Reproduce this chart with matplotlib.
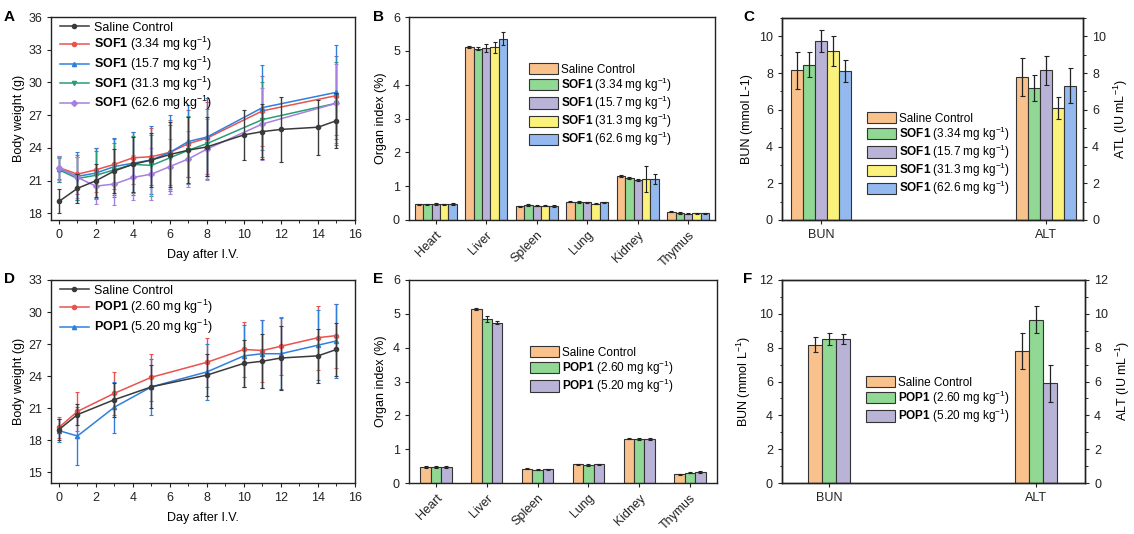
import numpy as np
import matplotlib
matplotlib.use("Agg")
import matplotlib.pyplot as plt
from matplotlib.ticker import MultipleLocator

plt.rcParams['font.family'] = ['Liberation Sans', 'DejaVu Sans']
plt.rcParams['mathtext.fontset'] = 'custom'
plt.rcParams['mathtext.rm'] = 'Liberation Sans'
plt.rcParams['mathtext.bf'] = 'Liberation Sans:bold'
plt.rcParams['font.size'] = 9

# ---------- data ----------
# body weight, SOF1 study (A)
days_ctrl = [0, 1, 2, 3, 4, 5, 6, 7, 8, 10, 11, 12, 14, 15]
bw_ctrl = [19.1, 20.3, 21.0, 21.9, 22.5, 22.9, 23.4, 23.8, 24.1, 25.2, 25.5, 25.7, 25.9, 26.5]
bw_ctrl_sd = [1.1, 1.3, 1.5, 2.0, 2.5, 2.5, 3.0, 3.0, 2.7, 2.3, 2.5, 3.0, 2.5, 2.5]

days_sof = [0, 1, 2, 3, 4, 5, 6, 7, 8, 11, 15]
bw_sof_334 = [22.2, 21.6, 22.0, 22.5, 23.1, 23.2, 23.6, 24.4, 24.9, 27.4, 28.8]
bw_sof_157 = [22.1, 21.4, 21.7, 22.3, 22.6, 22.9, 23.6, 24.6, 25.0, 27.7, 29.1]
bw_sof_313 = [22.0, 21.2, 21.5, 22.0, 22.5, 22.4, 23.1, 23.8, 24.4, 26.6, 28.1]
bw_sof_626 = [22.2, 21.3, 20.5, 20.7, 21.3, 21.6, 22.3, 23.0, 23.9, 26.2, 28.1]
sd_sof_334 = [1.0, 1.8, 2.0, 2.3, 2.4, 2.6, 3.0, 3.1, 3.3, 3.2, 3.6]
sd_sof_157 = [1.2, 2.2, 2.3, 2.6, 2.9, 3.1, 3.4, 3.3, 3.6, 3.9, 4.3]
sd_sof_313 = [1.1, 2.0, 2.2, 2.5, 2.6, 2.8, 3.0, 3.1, 3.2, 3.4, 3.8]
sd_sof_626 = [1.1, 1.9, 1.6, 1.9, 2.1, 2.4, 2.5, 2.6, 2.8, 3.3, 3.6]

# body weight, POP1 study (D)
days_pop = [0, 1, 3, 5, 8, 10, 11, 12, 14, 15]
bw_pop_ctrl = [19.0, 20.4, 21.8, 23.0, 24.1, 25.2, 25.4, 25.7, 25.9, 26.5]
bw_pop_260 = [19.2, 20.7, 22.4, 23.9, 25.3, 26.5, 26.4, 26.8, 27.6, 27.8]
bw_pop_520 = [18.9, 18.4, 21.1, 23.0, 24.4, 25.9, 26.1, 26.1, 26.9, 27.3]
sd_pop_ctrl = [1.0, 1.0, 1.6, 2.0, 2.0, 2.2, 2.5, 3.0, 2.5, 2.5]
sd_pop_260 = [1.0, 1.8, 2.0, 2.2, 2.3, 2.6, 2.9, 2.7, 3.0, 3.0]
sd_pop_520 = [1.1, 2.7, 2.4, 2.6, 2.6, 2.9, 3.2, 3.3, 3.3, 3.5]

organs = ['Heart', 'Liver', 'Spleen', 'Lung', 'Kidney', 'Thymus']

# organ index, SOF1 (B): one list per group, in organ order
oi_ctrl = [0.46, 5.12, 0.40, 0.54, 1.30, 0.25]
oi_sof_334 = [0.46, 5.06, 0.44, 0.53, 1.24, 0.21]
oi_sof_157 = [0.48, 5.08, 0.42, 0.52, 1.18, 0.19]
oi_sof_313 = [0.46, 5.10, 0.42, 0.48, 1.22, 0.20]
oi_sof_626 = [0.47, 5.36, 0.41, 0.52, 1.20, 0.20]
oi_ctrl_sd = [0.02, 0.03, 0.02, 0.02, 0.03, 0.02]
oi_sof_334_sd = [0.02, 0.05, 0.03, 0.02, 0.04, 0.02]
oi_sof_157_sd = [0.03, 0.12, 0.02, 0.02, 0.03, 0.02]
oi_sof_313_sd = [0.02, 0.15, 0.02, 0.02, 0.38, 0.02]
oi_sof_626_sd = [0.02, 0.20, 0.02, 0.02, 0.15, 0.02]

# organ index, POP1 (E)
oi_pop_ctrl = [0.47, 5.15, 0.42, 0.55, 1.31, 0.26]
oi_pop_260 = [0.47, 4.85, 0.39, 0.53, 1.30, 0.31]
oi_pop_520 = [0.47, 4.74, 0.40, 0.55, 1.30, 0.32]
oi_pop_ctrl_sd = [0.02, 0.03, 0.02, 0.02, 0.02, 0.02]
oi_pop_260_sd = [0.02, 0.10, 0.02, 0.02, 0.02, 0.02]
oi_pop_520_sd = [0.02, 0.04, 0.02, 0.02, 0.02, 0.02]

# serum biochemistry: [BUN, ALT]
bio_labels = ['BUN', 'ALT']
bio_sof_ctrl = [8.15, 7.79]
bio_sof_334 = [8.46, 7.19]
bio_sof_157 = [9.73, 8.15]
bio_sof_313 = [9.20, 6.12]
bio_sof_626 = [8.10, 7.32]
bio_sof_ctrl_sd = [1.00, 1.05]
bio_sof_334_sd = [0.70, 0.70]
bio_sof_157_sd = [0.60, 0.80]
bio_sof_313_sd = [0.80, 0.60]
bio_sof_626_sd = [0.60, 0.95]

bio_pop_ctrl = [8.17, 7.81]
bio_pop_260 = [8.50, 9.65]
bio_pop_520 = [8.50, 5.90]
bio_pop_ctrl_sd = [0.45, 1.05]
bio_pop_260_sd = [0.35, 0.80]
bio_pop_520_sd = [0.30, 1.10]

sof_names = ['Saline Control',
             r'$\mathbf{SOF1}$ (3.34 mg kg$^{-1}$)',
             r'$\mathbf{SOF1}$ (15.7 mg kg$^{-1}$)',
             r'$\mathbf{SOF1}$ (31.3 mg kg$^{-1}$)',
             r'$\mathbf{SOF1}$ (62.6 mg kg$^{-1}$)']
pop_names = ['Saline Control',
             r'$\mathbf{POP1}$ (2.60 mg kg$^{-1}$)',
             r'$\mathbf{POP1}$ (5.20 mg kg$^{-1}$)']

# ---------- style ----------
line_cols = ['#3a3a3a', '#e8534d', '#2f80dc', '#2a9d78', '#a680e0']
line_marks = ['o', 'o', '^', 'v', 'D']
bar_cols = ['#f9c28c', '#90d893', '#b9b3d8', '#fbf27c', '#93b9ee']
EDGE = '#333333'

W, H = 1134, 534
fig = plt.figure(figsize=(W / 100, H / 100), dpi=100)


def px_axes(x0, y0, x1, y1):
    return fig.add_axes([x0 / W, 1 - y1 / H, (x1 - x0) / W, (y1 - y0) / H])


def style(ax):
    for s in ax.spines.values():
        s.set_linewidth(1.0)
        s.set_color('#222222')
    ax.tick_params(direction='out', length=3, width=0.8, labelsize=9, colors='#222222')
    ax.tick_params(which='minor', direction='out', length=1.8, width=0.6)


def bar_legend(ax, leg_xy):
    ax.legend(loc='upper left', frameon=False, fontsize=8.5,
              handlelength=2.45, handleheight=1.1, labelspacing=0.0,
              handletextpad=0.25, borderpad=0,
              bbox_to_anchor=(leg_xy[0] / W, 1 - leg_xy[1] / H),
              bbox_transform=fig.transFigure)


def line_panel(ax, xs_list, ys_list, sd_list, names, cols, marks, ylim, yticks):
    order = list(range(1, len(ys_list))) + [0]
    handles = {}
    for i in order:
        h = ax.errorbar(xs_list[i], ys_list[i], yerr=sd_list[i], color=cols[i],
                        marker=marks[i], markersize=3, lw=1.1, elinewidth=1.0,
                        capsize=1.5, capthick=0.8, zorder=3 if i == 0 else 2)
        handles[i] = h
    ax.set_xlim(-0.43, 16)
    ax.set_ylim(*ylim)
    ax.set_yticks(yticks)
    ax.set_xticks(range(0, 17, 2))
    ax.xaxis.set_minor_locator(MultipleLocator(1))
    ax.set_xlabel('Day after I.V.', labelpad=6)
    ax.set_ylabel('Body weight (g)', labelpad=2)
    hs = [handles[i][0] for i in range(len(ys_list))]
    ax.legend(hs, names, loc='upper left', frameon=False, fontsize=9,
              handlelength=2.3, labelspacing=0.12, borderaxespad=0.3,
              handletextpad=0.4, bbox_to_anchor=(0.0, 1.02))
    style(ax)


def organ_panel(ax, groups, sds, names, cols, bar_w, leg_xy):
    x = np.arange(len(organs))
    n = len(groups)
    for i in range(n):
        pos = x + (i - (n - 1) / 2) * bar_w
        ax.bar(pos, groups[i], width=bar_w, color=cols[i], edgecolor=EDGE,
               linewidth=0.8, label=names[i],
               yerr=sds[i], error_kw=dict(ecolor='#222222', elinewidth=0.8,
                                         capsize=1.5, capthick=0.8))
    ax.set_xlim(-0.53, 5.53)
    ax.set_ylim(0, 6)
    ax.set_yticks(range(0, 7))
    ax.set_xticks(x)
    ax.set_xticklabels(organs, rotation=45, ha='right', rotation_mode='anchor', fontsize=8.8)
    ax.set_ylabel('Organ index (%)', labelpad=4)
    bar_legend(ax, leg_xy)
    style(ax)


def bio_panel(ax, groups, sds, names, cols, bar_w, xlim, ylim, yticks,
              left_label, right_label, leg_xy):
    x = np.arange(len(bio_labels))
    n = len(groups)
    for i in range(n):
        pos = x + (i - (n - 1) / 2) * bar_w
        ax.bar(pos, groups[i], width=bar_w, color=cols[i], edgecolor=EDGE,
               linewidth=0.8, label=names[i],
               yerr=sds[i], error_kw=dict(ecolor='#222222', elinewidth=0.9,
                                         capsize=1.8, capthick=0.8))
    ax.set_xlim(*xlim)
    ax.set_ylim(*ylim)
    ax.set_yticks(yticks)
    ax.yaxis.set_minor_locator(MultipleLocator(1))
    ax.set_xticks(x)
    ax.set_xticklabels(bio_labels)
    ax.set_ylabel(left_label, labelpad=4)
    ax2 = ax.twinx()
    ax2.set_ylim(*ylim)
    ax2.set_yticks(yticks)
    ax2.yaxis.set_minor_locator(MultipleLocator(1))
    ax2.set_ylabel(right_label, labelpad=4)
    bar_legend(ax, leg_xy)
    style(ax)
    style(ax2)


# ---------- panels ----------
axA = px_axes(51, 17, 355, 220)
line_panel(axA, [days_ctrl] + [days_sof] * 4,
           [bw_ctrl, bw_sof_334, bw_sof_157, bw_sof_313, bw_sof_626],
           [bw_ctrl_sd, sd_sof_334, sd_sof_157, sd_sof_313, sd_sof_626],
           sof_names, line_cols, line_marks, (17.4, 36), range(18, 37, 3))

axB = px_axes(409, 17, 715, 220)
organ_panel(axB, [oi_ctrl, oi_sof_334, oi_sof_157, oi_sof_313, oi_sof_626],
            [oi_ctrl_sd, oi_sof_334_sd, oi_sof_157_sd, oi_sof_313_sd, oi_sof_626_sd],
            sof_names, bar_cols, 0.168, (523, 57))

axC = px_axes(782, 18, 1083, 220)
bio_panel(axC, [bio_sof_ctrl, bio_sof_334, bio_sof_157, bio_sof_313, bio_sof_626],
          [bio_sof_ctrl_sd, bio_sof_334_sd, bio_sof_157_sd, bio_sof_313_sd, bio_sof_626_sd],
          sof_names, bar_cols, 0.053, (-0.173, 1.164), (0, 11), range(0, 11, 2),
          'BUN (mmol L-1)', r'ATL (IU mL$^{-1}$)', (861, 106))

axD = px_axes(51, 280, 355, 483)
line_panel(axD, [days_pop] * 3, [bw_pop_ctrl, bw_pop_260, bw_pop_520],
           [sd_pop_ctrl, sd_pop_260, sd_pop_520],
           pop_names, [line_cols[0], line_cols[1], line_cols[2]],
           ['o', 'o', '^'], (14, 33), range(15, 34, 3))

axE = px_axes(409, 280, 717, 483)
organ_panel(axE, [oi_pop_ctrl, oi_pop_260, oi_pop_520],
            [oi_pop_ctrl_sd, oi_pop_260_sd, oi_pop_520_sd],
            pop_names, [bar_cols[0], bar_cols[1], bar_cols[2]], 0.205, (524, 340))

axF = px_axes(782, 280, 1085, 483)
bio_panel(axF, [bio_pop_ctrl, bio_pop_260, bio_pop_520],
          [bio_pop_ctrl_sd, bio_pop_260_sd, bio_pop_520_sd],
          pop_names, [bar_cols[0], bar_cols[1], bar_cols[2]], 0.068,
          (-0.227, 1.237), (0, 12), range(0, 13, 2),
          r'BUN (mmol L$^{-1}$)', r'ALT (IU mL$^{-1}$)', (860, 370))

for lab, (x, y) in zip('ABCDEF', [(4, 10), (373, 10), (743, 10),
                                   (4, 272), (373, 272), (743, 272)]):
    fig.text(x / W, 1 - y / H, lab, fontsize=11, fontweight='bold', va='top', ha='left')

fig.savefig('out.png', dpi=100, facecolor='white')
